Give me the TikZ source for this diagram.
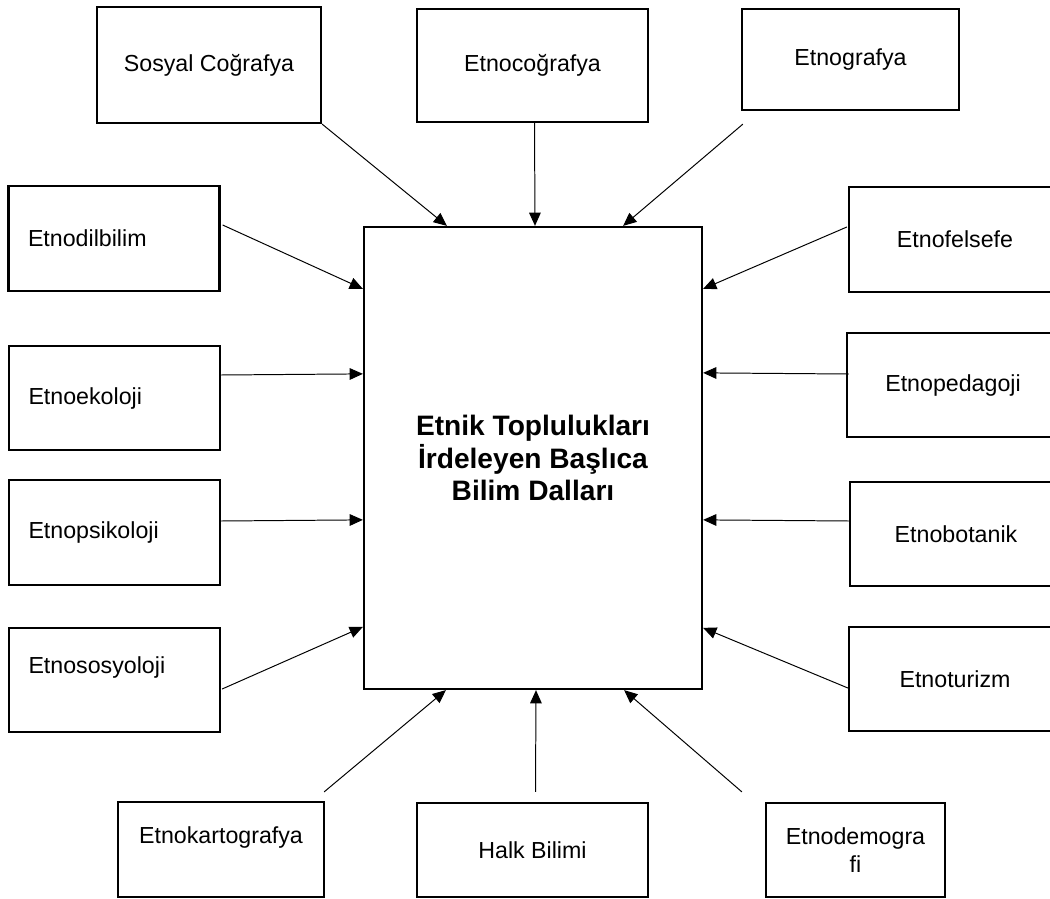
\documentclass[tikz,border=0pt]{standalone}
\usepackage{fontspec}
\setmainfont{Liberation Sans}
\usetikzlibrary{calc,arrows.meta}

\begin{document}
\begin{tikzpicture}[x=0.025cm,y=-0.025cm]
                      \tikzstyle{kutu}=[draw=black,line width=1.6pt,inner sep=0pt,align=center,font=\fontsize{16.5pt}{20pt}\selectfont]
                      \tikzstyle{solkutu}=[kutu,align=left,text width=172*0.025cm,minimum width=211*0.025cm,minimum height=104*0.025cm]
                      \tikzstyle{sagkutu}=[kutu,minimum width=212*0.025cm,minimum height=104*0.025cm]
                      \tikzstyle{ok}=[line width=0.7pt,-{Triangle[length=0.33cm,width=0.29cm]}]
                      \useasboundingbox (0,0) rectangle (1050,899);
                      \clip (0,0) rectangle (1050,899);
                      % ust sira
                      \node[kutu,minimum width=224*0.025cm,minimum height=116*0.025cm] (sosyal) at (209,65) {Sosyal Coğrafya};
                      \node[kutu,minimum width=231*0.025cm,minimum height=113*0.025cm] (etnocog) at (532.5,65.5) {Etnocoğrafya};
                      \node[kutu,minimum width=217*0.025cm,minimum height=101*0.025cm] (etnograf) at (850.5,59.5) {Etnografya};
                      % sol ve sag
                      \node[solkutu,minimum height=105*0.025cm] (dilbilim) at (114,238.5) {Etnodilbilim};
                      \node[sagkutu,minimum height=105*0.025cm] (felsefe) at (955,239.5) {Etnofelsefe};
                      \node[solkutu] (ekoloji) at (114.5,398) {Etnoekoloji};
                      \node[sagkutu] (pedagoji) at (953,385) {Etnopedagoji};
                      \node[solkutu,minimum height=105*0.025cm] (psikoloji) at (114.5,532.5) {Etnopsikoloji};
                      \node[sagkutu] (botanik) at (956,534) {Etnobotanik};
                      \node[solkutu] (sosyoloji) at (114.5,680) {\raisebox{0.75cm}{Etnososyoloji}};
                      \node[sagkutu] (turizm) at (955,679) {Etnoturizm};
                      % alt sira
                      \node[kutu,minimum width=206*0.025cm,minimum height=95*0.025cm] (kartograf) at (221,849.5) {\raisebox{0.7cm}{Etnokartografya}};
                      \node[kutu,minimum width=231*0.025cm,minimum height=94*0.025cm] (halk) at (532.5,850) {Halk Bilimi};
                      \node[kutu,minimum width=179*0.025cm,minimum height=94*0.025cm] (demograf) at (855.5,850) {Etnodemogra\\fi};
                      % orta
                      \node[kutu,minimum width=338*0.025cm,minimum height=462*0.025cm,font=\bfseries\fontsize{20pt}{23pt}\selectfont] (merkez) at (533,458) {Etnik Toplulukları\\İrdeleyen Başlıca\\Bilim Dalları};
                      % oklar
                      \draw[ok] (sosyal.south east) -- ($(merkez.north west)+(84,0)$);
                      \draw[ok] ($(etnocog.south)+(2,0)$) -- ($(merkez.north)+(2,0)$);
                      \draw[ok] ($(etnograf.south west)+(2,13)$) -- ($(merkez.north east)+(-80,0)$);
                      \draw[ok] ($(dilbilim.east)+(2,-13.5)$) -- ($(merkez.north west)+(0,63)$);
                      \draw[ok] ($(felsefe.west)+(-1,-12.5)$) -- ($(merkez.north east)+(0,63)$);
                      \draw[ok] ($(ekoloji.east)+(0,-23)$) -- ($(merkez.north west)+(0,148)$);
                      \draw[ok] ($(pedagoji.west)+(3,-11)$) -- ($(merkez.north east)+(0,147)$);
                      \draw[ok] ($(psikoloji.east)+(0,-11.5)$) -- ($(merkez.north west)+(0,294)$);
                      \draw[ok] ($(botanik.west)+(0,-13)$) -- ($(merkez.north east)+(0,294)$);
                      \draw[ok] ($(sosyoloji.east)+(1,9)$) -- ($(merkez.north west)+(0,401)$);
                      \draw[ok] ($(turizm.west)+(0,9)$) -- ($(merkez.north east)+(0,402)$);
                      \draw[ok] ($(kartograf.north east)+(-1,-9)$) -- ($(merkez.south west)+(83,0)$);
                      \draw[ok] ($(halk.north)+(3,-10)$) -- ($(merkez.south)+(3,0)$);
                      \draw[ok] ($(demograf.north west)+(-23,-10)$) -- ($(merkez.south east)+(-79,0)$);
\end{tikzpicture}
\end{document}
